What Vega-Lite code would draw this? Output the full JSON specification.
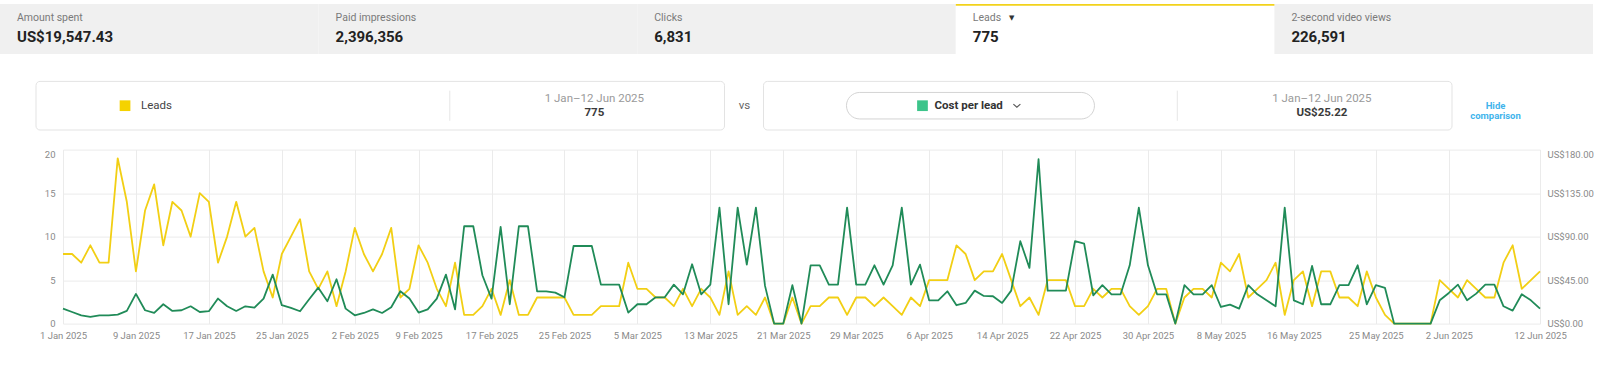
{
  "$schema": "https://vega.github.io/schema/vega-lite/v6.json",
  "padding": {"top": 4, "left": 0, "right": 0, "bottom": 0},
  "background": "#ffffff",
  "config": {"view": {"stroke": null}, "font": "Roboto"},
  "datasets": {
    "tabs": [
      {"metric": "Amount spent", "total": "US$19,547.43"},
      {"metric": "Paid impressions", "total": "2,396,356"},
      {"metric": "Clicks", "total": "6,831"},
      {"metric": "Leads", "total": "775"},
      {"metric": "2-second video views", "total": "226,591"}
    ],
    "compare": [
      {"metric": "Leads", "period": "1 Jan–12 Jun 2025", "total": "775"},
      {"metric": "Cost per lead", "period": "1 Jan–12 Jun 2025", "total": "US$25.22"}
    ],
    "daily": [
      {"date": "2025-01-01", "leads": 8, "cpl": 15.5},
      {"date": "2025-01-02", "leads": 8, "cpl": 12},
      {"date": "2025-01-03", "leads": 7, "cpl": 8.6},
      {"date": "2025-01-04", "leads": 9, "cpl": 6.9},
      {"date": "2025-01-05", "leads": 7, "cpl": 8.6},
      {"date": "2025-01-06", "leads": 7, "cpl": 8.6},
      {"date": "2025-01-07", "leads": 19, "cpl": 9.3},
      {"date": "2025-01-08", "leads": 14, "cpl": 13.1},
      {"date": "2025-01-09", "leads": 6, "cpl": 30.7},
      {"date": "2025-01-10", "leads": 13, "cpl": 13.8},
      {"date": "2025-01-11", "leads": 16, "cpl": 11},
      {"date": "2025-01-12", "leads": 9, "cpl": 20},
      {"date": "2025-01-13", "leads": 14, "cpl": 13.1},
      {"date": "2025-01-14", "leads": 13, "cpl": 13.8},
      {"date": "2025-01-15", "leads": 10, "cpl": 17.9},
      {"date": "2025-01-16", "leads": 15, "cpl": 12},
      {"date": "2025-01-17", "leads": 14, "cpl": 12.8},
      {"date": "2025-01-18", "leads": 7, "cpl": 25.9},
      {"date": "2025-01-19", "leads": 10, "cpl": 17.9},
      {"date": "2025-01-20", "leads": 14, "cpl": 13.1},
      {"date": "2025-01-21", "leads": 10, "cpl": 17.9},
      {"date": "2025-01-22", "leads": 11, "cpl": 16.5},
      {"date": "2025-01-23", "leads": 6, "cpl": 25.9},
      {"date": "2025-01-24", "leads": 3, "cpl": 50.7},
      {"date": "2025-01-25", "leads": 8, "cpl": 19},
      {"date": "2025-01-26", "leads": 10, "cpl": 16.2},
      {"date": "2025-01-27", "leads": 12, "cpl": 12.8},
      {"date": "2025-01-28", "leads": 6, "cpl": 25.2},
      {"date": "2025-01-29", "leads": 4, "cpl": 37.2},
      {"date": "2025-01-30", "leads": 6, "cpl": 23.1},
      {"date": "2025-01-31", "leads": 2, "cpl": 45.9},
      {"date": "2025-02-01", "leads": 6, "cpl": 15.5},
      {"date": "2025-02-02", "leads": 11, "cpl": 8.6},
      {"date": "2025-02-03", "leads": 8, "cpl": 11},
      {"date": "2025-02-04", "leads": 6, "cpl": 14.8},
      {"date": "2025-02-05", "leads": 8, "cpl": 11},
      {"date": "2025-02-06", "leads": 11, "cpl": 16.9},
      {"date": "2025-02-07", "leads": 3, "cpl": 33.4},
      {"date": "2025-02-08", "leads": 4, "cpl": 25.9},
      {"date": "2025-02-09", "leads": 9, "cpl": 11.4},
      {"date": "2025-02-10", "leads": 7, "cpl": 14.8},
      {"date": "2025-02-11", "leads": 4, "cpl": 25.9},
      {"date": "2025-02-12", "leads": 2, "cpl": 50.7},
      {"date": "2025-02-13", "leads": 7, "cpl": 14.8},
      {"date": "2025-02-14", "leads": 1, "cpl": 100.7},
      {"date": "2025-02-15", "leads": 1, "cpl": 100.7},
      {"date": "2025-02-16", "leads": 2, "cpl": 50},
      {"date": "2025-02-17", "leads": 4, "cpl": 25.9},
      {"date": "2025-02-18", "leads": 1, "cpl": 100},
      {"date": "2025-02-19", "leads": 5, "cpl": 20},
      {"date": "2025-02-20", "leads": 1, "cpl": 100.7},
      {"date": "2025-02-21", "leads": 1, "cpl": 100.7},
      {"date": "2025-02-22", "leads": 3, "cpl": 33.4},
      {"date": "2025-02-23", "leads": 3, "cpl": 33.4},
      {"date": "2025-02-24", "leads": 3, "cpl": 32},
      {"date": "2025-02-25", "leads": 3, "cpl": 27.2},
      {"date": "2025-02-26", "leads": 1, "cpl": 80.3},
      {"date": "2025-02-27", "leads": 1, "cpl": 80.3},
      {"date": "2025-02-28", "leads": 1, "cpl": 80.3},
      {"date": "2025-03-01", "leads": 2, "cpl": 40.3},
      {"date": "2025-03-02", "leads": 2, "cpl": 40.3},
      {"date": "2025-03-03", "leads": 2, "cpl": 40.3},
      {"date": "2025-03-04", "leads": 7, "cpl": 11.4},
      {"date": "2025-03-05", "leads": 4, "cpl": 20},
      {"date": "2025-03-06", "leads": 4, "cpl": 20},
      {"date": "2025-03-07", "leads": 3, "cpl": 27.2},
      {"date": "2025-03-08", "leads": 3, "cpl": 27.2},
      {"date": "2025-03-09", "leads": 2, "cpl": 40.3},
      {"date": "2025-03-10", "leads": 4, "cpl": 30.3},
      {"date": "2025-03-11", "leads": 2, "cpl": 61.4},
      {"date": "2025-03-12", "leads": 4, "cpl": 30.3},
      {"date": "2025-03-13", "leads": 3, "cpl": 40.3},
      {"date": "2025-03-14", "leads": 1, "cpl": 120},
      {"date": "2025-03-15", "leads": 6, "cpl": 20},
      {"date": "2025-03-16", "leads": 1, "cpl": 120},
      {"date": "2025-03-17", "leads": 2, "cpl": 61},
      {"date": "2025-03-18", "leads": 1, "cpl": 120},
      {"date": "2025-03-19", "leads": 3, "cpl": 39},
      {"date": "2025-03-20", "leads": 0, "cpl": 0},
      {"date": "2025-03-21", "leads": 0, "cpl": 0},
      {"date": "2025-03-22", "leads": 3, "cpl": 39.7},
      {"date": "2025-03-23", "leads": 0, "cpl": 0},
      {"date": "2025-03-24", "leads": 2, "cpl": 60.3},
      {"date": "2025-03-25", "leads": 2, "cpl": 60.3},
      {"date": "2025-03-26", "leads": 3, "cpl": 40.3},
      {"date": "2025-03-27", "leads": 3, "cpl": 40.3},
      {"date": "2025-03-28", "leads": 1, "cpl": 120},
      {"date": "2025-03-29", "leads": 3, "cpl": 40.3},
      {"date": "2025-03-30", "leads": 3, "cpl": 40.3},
      {"date": "2025-03-31", "leads": 2, "cpl": 60.3},
      {"date": "2025-04-01", "leads": 3, "cpl": 40.3},
      {"date": "2025-04-02", "leads": 2, "cpl": 60.3},
      {"date": "2025-04-03", "leads": 1, "cpl": 120},
      {"date": "2025-04-04", "leads": 3, "cpl": 40.3},
      {"date": "2025-04-05", "leads": 2, "cpl": 61},
      {"date": "2025-04-06", "leads": 5, "cpl": 24.1},
      {"date": "2025-04-07", "leads": 5, "cpl": 24.1},
      {"date": "2025-04-08", "leads": 5, "cpl": 33.4},
      {"date": "2025-04-09", "leads": 9, "cpl": 19},
      {"date": "2025-04-10", "leads": 8, "cpl": 21.4},
      {"date": "2025-04-11", "leads": 5, "cpl": 34.1},
      {"date": "2025-04-12", "leads": 6, "cpl": 28.6},
      {"date": "2025-04-13", "leads": 6, "cpl": 28.3},
      {"date": "2025-04-14", "leads": 8, "cpl": 21.4},
      {"date": "2025-04-15", "leads": 5, "cpl": 34.1},
      {"date": "2025-04-16", "leads": 2, "cpl": 85.2},
      {"date": "2025-04-17", "leads": 3, "cpl": 57.6},
      {"date": "2025-04-18", "leads": 1, "cpl": 170},
      {"date": "2025-04-19", "leads": 5, "cpl": 34.1},
      {"date": "2025-04-20", "leads": 5, "cpl": 34.1},
      {"date": "2025-04-21", "leads": 5, "cpl": 34.1},
      {"date": "2025-04-22", "leads": 2, "cpl": 85.2},
      {"date": "2025-04-23", "leads": 2, "cpl": 82.8},
      {"date": "2025-04-24", "leads": 4, "cpl": 29.3},
      {"date": "2025-04-25", "leads": 3, "cpl": 39.7},
      {"date": "2025-04-26", "leads": 4, "cpl": 30.3},
      {"date": "2025-04-27", "leads": 4, "cpl": 30.3},
      {"date": "2025-04-28", "leads": 2, "cpl": 60.3},
      {"date": "2025-04-29", "leads": 1, "cpl": 120},
      {"date": "2025-04-30", "leads": 2, "cpl": 60.3},
      {"date": "2025-05-01", "leads": 4, "cpl": 30.3},
      {"date": "2025-05-02", "leads": 4, "cpl": 30.3},
      {"date": "2025-05-03", "leads": 0, "cpl": 0},
      {"date": "2025-05-04", "leads": 3, "cpl": 39.7},
      {"date": "2025-05-05", "leads": 4, "cpl": 30.3},
      {"date": "2025-05-06", "leads": 4, "cpl": 30.3},
      {"date": "2025-05-07", "leads": 3, "cpl": 39.7},
      {"date": "2025-05-08", "leads": 7, "cpl": 17.2},
      {"date": "2025-05-09", "leads": 6, "cpl": 19.7},
      {"date": "2025-05-10", "leads": 8, "cpl": 15.5},
      {"date": "2025-05-11", "leads": 3, "cpl": 39.7},
      {"date": "2025-05-12", "leads": 4, "cpl": 30.3},
      {"date": "2025-05-13", "leads": 5, "cpl": 24.1},
      {"date": "2025-05-14", "leads": 7, "cpl": 17.9},
      {"date": "2025-05-15", "leads": 1, "cpl": 120},
      {"date": "2025-05-16", "leads": 5, "cpl": 24.1},
      {"date": "2025-05-17", "leads": 6, "cpl": 20},
      {"date": "2025-05-18", "leads": 2, "cpl": 59.6},
      {"date": "2025-05-19", "leads": 6, "cpl": 20},
      {"date": "2025-05-20", "leads": 6, "cpl": 20},
      {"date": "2025-05-21", "leads": 3, "cpl": 39.7},
      {"date": "2025-05-22", "leads": 3, "cpl": 39.7},
      {"date": "2025-05-23", "leads": 2, "cpl": 60.3},
      {"date": "2025-05-24", "leads": 6, "cpl": 20},
      {"date": "2025-05-25", "leads": 3, "cpl": 39.7},
      {"date": "2025-05-26", "leads": 1, "cpl": 36.9},
      {"date": "2025-05-27", "leads": 0, "cpl": 0},
      {"date": "2025-05-28", "leads": 0, "cpl": 0},
      {"date": "2025-05-29", "leads": 0, "cpl": 0},
      {"date": "2025-05-30", "leads": 0, "cpl": 0},
      {"date": "2025-05-31", "leads": 0, "cpl": 0},
      {"date": "2025-06-01", "leads": 5, "cpl": 24.1},
      {"date": "2025-06-02", "leads": 4, "cpl": 31.7},
      {"date": "2025-06-03", "leads": 3, "cpl": 40.3},
      {"date": "2025-06-04", "leads": 5, "cpl": 24.1},
      {"date": "2025-06-05", "leads": 4, "cpl": 31},
      {"date": "2025-06-06", "leads": 3, "cpl": 40.3},
      {"date": "2025-06-07", "leads": 3, "cpl": 40.3},
      {"date": "2025-06-08", "leads": 7, "cpl": 17.9},
      {"date": "2025-06-09", "leads": 9, "cpl": 13.4},
      {"date": "2025-06-10", "leads": 4, "cpl": 30.3},
      {"date": "2025-06-11", "leads": 5, "cpl": 24.1},
      {"date": "2025-06-12", "leads": 6, "cpl": 15.5}
    ]
  },
  "spacing": 26.4,
  "vconcat": [
    {
      "width": 1537,
      "height": 50,
      "data": {"name": "tabs"},
      "layer": [
        {
          "mark": {"type": "rect"},
          "encoding": {
            "x": {"field": "metric", "type": "nominal", "axis": null, "scale": {"domain": ["Amount spent", "Paid impressions", "Clicks", "Leads", "2-second video views"], "range": [-63, 1537], "paddingInner": 0, "paddingOuter": 0.011, "align": 0}},
            "fill": {"condition": {"test": "datum.metric === 'Leads'", "value": "#ffffff"}, "value": "#f0f0f0"}
          }
        },
        {
          "transform": [{"filter": "datum.metric === 'Leads'"}],
          "mark": {"type": "rect", "color": "#f2d21b"},
          "encoding": {
            "x": {"field": "metric", "type": "nominal", "axis": null},
            "y": {"datum": 1, "type": "quantitative", "scale": {"domain": [0, 1], "nice": false}, "axis": null},
            "y2": {"datum": 0.965}
          }
        },
        {
          "mark": {"type": "text", "align": "left", "baseline": "middle", "dx": 17, "dy": -10.7, "fontSize": 10.5, "color": "#7a7a7a"},
          "encoding": {
            "x": {"field": "metric", "type": "nominal", "axis": null, "bandPosition": 0},
            "text": {"field": "metric"}
          }
        },
        {
          "mark": {"type": "text", "align": "left", "baseline": "middle", "dx": 17, "dy": 8.3, "fontSize": 15, "fontWeight": "bold", "color": "#222222"},
          "encoding": {
            "x": {"field": "metric", "type": "nominal", "axis": null, "bandPosition": 0},
            "text": {"field": "total"}
          }
        },
        {
          "transform": [{"filter": "datum.metric === 'Leads'"}],
          "mark": {"type": "text", "align": "center", "baseline": "middle", "dx": 56, "dy": -10.7, "fontSize": 7, "font": "DejaVu Sans", "color": "#333333"},
          "encoding": {
            "x": {"field": "metric", "type": "nominal", "axis": null, "bandPosition": 0},
            "text": {"value": "▼"}
          }
        }
      ]
    },
    {
      "spacing": 18.2,
      "vconcat": [
        {
          "width": 1537,
          "height": 48.6,
          "data": {"name": "compare"},
          "layer": [
            {
              "mark": {"type": "rect", "fill": "#ffffff", "stroke": "#e3e3e3", "strokeWidth": 1, "cornerRadius": 4},
              "encoding": {
                "x": {"field": "metric", "type": "nominal", "axis": null, "scale": {"domain": ["Leads", "Cost per lead"], "range": [-63, 1537], "paddingInner": 0.0536, "paddingOuter": 0.12646, "align": 0.1957}}
              }
            },
            {
              "mark": {"type": "rule", "color": "#e6e6e6", "strokeWidth": 1},
              "encoding": {
                "x": {"field": "metric", "type": "nominal", "axis": null, "bandPosition": 0.601},
                "y": {"datum": 0.19, "type": "quantitative", "scale": {"domain": [0, 1], "nice": false}, "axis": null},
                "y2": {"datum": 0.81}
              }
            },
            {
              "transform": [{"filter": "datum.metric === 'Cost per lead'"}],
              "mark": {"type": "point", "shape": "M -0.8931 -0.1069 L 0.8931 -0.1069 A 0.1069 0.1069 0 0 1 0.8931 0.1069 L -0.8931 0.1069 A 0.1069 0.1069 0 0 1 -0.8931 -0.1069 Z", "size": 61504, "filled": true, "fill": "#ffffff", "stroke": "#d4d4d4", "strokeWidth": 1, "opacity": 1},
              "encoding": {
                "x": {"field": "metric", "type": "nominal", "axis": null, "bandPosition": 0.3006}
              }
            },
            {
              "transform": [{"filter": "datum.metric === 'Leads'"}],
              "mark": {"type": "square", "size": 115, "filled": true, "color": "#f5d200", "opacity": 1},
              "encoding": {
                "x": {"field": "metric", "type": "nominal", "axis": null, "bandPosition": 0.1293}
              }
            },
            {
              "transform": [{"filter": "datum.metric === 'Cost per lead'"}],
              "mark": {"type": "square", "size": 115, "filled": true, "color": "#3cc48a", "opacity": 1},
              "encoding": {
                "x": {"field": "metric", "type": "nominal", "axis": null, "bandPosition": 0.2309}
              }
            },
            {
              "transform": [{"filter": "datum.metric === 'Leads'"}],
              "mark": {"type": "text", "align": "left", "baseline": "middle", "fontSize": 11.5, "color": "#444444"},
              "encoding": {
                "x": {"field": "metric", "type": "nominal", "axis": null, "bandPosition": 0.1525},
                "text": {"field": "metric"}
              }
            },
            {
              "transform": [{"filter": "datum.metric === 'Cost per lead'"}],
              "mark": {"type": "text", "align": "left", "baseline": "middle", "fontSize": 11.5, "fontWeight": "bold", "color": "#333333"},
              "encoding": {
                "x": {"field": "metric", "type": "nominal", "axis": null, "bandPosition": 0.2484},
                "text": {"field": "metric"}
              }
            },
            {
              "transform": [{"filter": "datum.metric === 'Cost per lead'"}],
              "mark": {"type": "point", "shape": "M -1 -0.45 L 0 0.45 L 1 -0.45", "size": 49, "filled": false, "stroke": "#555555", "strokeWidth": 1.1, "opacity": 1},
              "encoding": {
                "x": {"field": "metric", "type": "nominal", "axis": null, "bandPosition": 0.368}
              }
            },
            {
              "mark": {"type": "text", "align": "center", "baseline": "middle", "dy": -6.5, "fontSize": 11.5, "color": "#9a9a9a"},
              "encoding": {
                "x": {"field": "metric", "type": "nominal", "axis": null, "bandPosition": 0.811},
                "text": {"field": "period"}
              }
            },
            {
              "mark": {"type": "text", "align": "center", "baseline": "middle", "dy": 7.7, "fontSize": 11.5, "fontWeight": "bold", "color": "#3a3a3a"},
              "encoding": {
                "x": {"field": "metric", "type": "nominal", "axis": null, "bandPosition": 0.811},
                "text": {"field": "total"}
              }
            },
            {
              "transform": [{"filter": "datum.metric === 'Leads'"}],
              "mark": {"type": "text", "align": "center", "baseline": "middle", "dx": 20, "fontSize": 11.5, "color": "#666666"},
              "encoding": {
                "x": {"field": "metric", "type": "nominal", "axis": null, "bandPosition": 1},
                "text": {"value": "vs"}
              }
            },
            {
              "transform": [{"filter": "datum.metric === 'Cost per lead'"}],
              "mark": {"type": "text", "align": "center", "baseline": "middle", "dx": 43.5, "dy": 0.7, "fontSize": 9.5, "fontWeight": "bold", "lineHeight": 10, "color": "#3fb4ec"},
              "encoding": {
                "x": {"field": "metric", "type": "nominal", "axis": null, "bandPosition": 1},
                "text": {"value": ["Hide", "comparison"]}
              }
            }
          ]
        },
        {
          "width": 1477,
          "height": 174,
          "data": {"name": "daily"},
          "encoding": {
            "x": {
              "field": "date",
              "type": "temporal",
              "scale": {"type": "utc", "nice": false},
              "axis": {
                "title": null,
                "values": [
                  {"year": 2025, "month": 1, "date": 1, "utc": true},
                  {"year": 2025, "month": 1, "date": 9, "utc": true},
                  {"year": 2025, "month": 1, "date": 17, "utc": true},
                  {"year": 2025, "month": 1, "date": 25, "utc": true},
                  {"year": 2025, "month": 2, "date": 2, "utc": true},
                  {"year": 2025, "month": 2, "date": 9, "utc": true},
                  {"year": 2025, "month": 2, "date": 17, "utc": true},
                  {"year": 2025, "month": 2, "date": 25, "utc": true},
                  {"year": 2025, "month": 3, "date": 5, "utc": true},
                  {"year": 2025, "month": 3, "date": 13, "utc": true},
                  {"year": 2025, "month": 3, "date": 21, "utc": true},
                  {"year": 2025, "month": 3, "date": 29, "utc": true},
                  {"year": 2025, "month": 4, "date": 6, "utc": true},
                  {"year": 2025, "month": 4, "date": 14, "utc": true},
                  {"year": 2025, "month": 4, "date": 22, "utc": true},
                  {"year": 2025, "month": 4, "date": 30, "utc": true},
                  {"year": 2025, "month": 5, "date": 8, "utc": true},
                  {"year": 2025, "month": 5, "date": 16, "utc": true},
                  {"year": 2025, "month": 5, "date": 25, "utc": true},
                  {"year": 2025, "month": 6, "date": 2, "utc": true},
                  {"year": 2025, "month": 6, "date": 12, "utc": true}
                ],
                "labelExpr": "utcFormat(datum.value, '%-d %b %Y')",
                "labelOverlap": false,
                "labelFlush": false,
                "labelFontSize": 9.5,
                "labelColor": "#8a8a8a",
                "labelPadding": 7,
                "ticks": false,
                "domain": false,
                "grid": true,
                "gridColor": "#ebebeb",
                "gridWidth": 1
              }
            }
          },
          "layer": [
            {
              "mark": {"type": "line", "color": "#f2cf14", "strokeWidth": 1.8, "strokeJoin": "round"},
              "encoding": {
                "y": {
                  "field": "leads",
                  "type": "quantitative",
                  "scale": {"domain": [0, 20], "nice": false},
                  "axis": {
                    "orient": "left",
                    "title": null,
                    "values": [0, 5, 10, 15, 20],
                    "grid": true,
                    "gridColor": "#ebebeb",
                    "domain": false,
                    "ticks": false,
                    "labelPadding": 8,
                    "minExtent": 63,
                    "maxExtent": 63,
                    "labelFontSize": 9.5,
                    "labelColor": "#8a8a8a",
                    "labelBaseline": {"condition": {"test": "datum.value == 20", "value": "top"}, "value": "middle"}
                  }
                }
              }
            },
            {
              "mark": {"type": "line", "color": "#208b58", "strokeWidth": 1.8, "strokeJoin": "round"},
              "encoding": {
                "y": {
                  "field": "cpl",
                  "type": "quantitative",
                  "scale": {"domain": [0, 180], "nice": false},
                  "axis": {
                    "orient": "right",
                    "title": null,
                    "values": [0, 45, 90, 135, 180],
                    "grid": false,
                    "domain": false,
                    "ticks": false,
                    "labelPadding": 7,
                    "labelFontSize": 9.5,
                    "labelColor": "#8a8a8a",
                    "labelExpr": "'US$' + format(datum.value, ',.2f')",
                    "labelBaseline": {"condition": {"test": "datum.value == 180", "value": "top"}, "value": "middle"}
                  }
                }
              }
            }
          ],
          "resolve": {"scale": {"y": "independent"}}
        }
      ]
    }
  ]
}
